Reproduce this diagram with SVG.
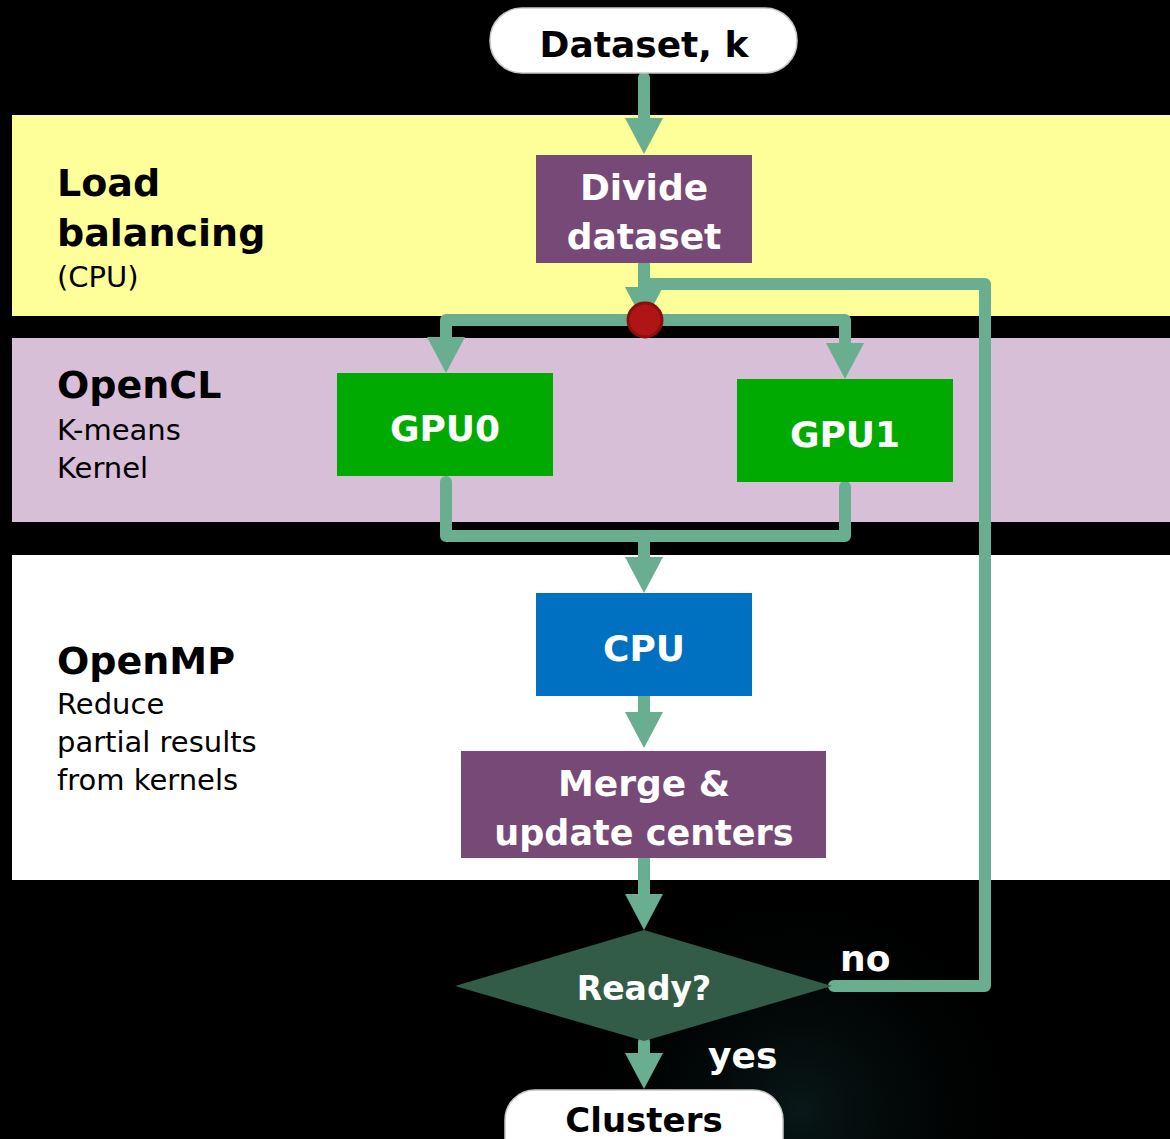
<svg xmlns="http://www.w3.org/2000/svg" width="1170" height="1139" viewBox="0 0 1170 1139">
  <defs>
    <radialGradient id="glow" cx="800" cy="1110" r="240" gradientUnits="userSpaceOnUse">
      <stop offset="0" stop-color="#0c2222" stop-opacity="0.7"/>
      <stop offset="1" stop-color="#000000" stop-opacity="0"/>
    </radialGradient>
    <!-- arrowhead: base sits on the line end, tip points forward -->
    <marker id="arrow" viewBox="0 0 36 38" refX="0" refY="19" markerWidth="36" markerHeight="38" markerUnits="userSpaceOnUse" orient="auto">
      <path d="M0,0 L36,19 L0,38 Z" fill="#6aae91"/>
    </marker>
    <style>
      .band-label { font-family: "DejaVu Sans", "Liberation Sans", sans-serif; fill: #000; }
      .title { font-weight: bold; font-size: 38px; }
      .sub { font-size: 29px; }
      .node-text { font-family: "DejaVu Sans", "Liberation Sans", sans-serif; font-weight: bold; font-size: 36px; fill: #fff; text-anchor: middle; }
      .pill-text { font-family: "DejaVu Sans", "Liberation Sans", sans-serif; font-weight: bold; font-size: 36px; fill: #000; text-anchor: middle; }
      .pill { fill: #fff; stroke: #c8c8c8; stroke-width: 1.5; }
      .proc { fill: #774977; }
      .gpu { fill: #00aa00; }
      .wire { fill: none; stroke: #6aae91; stroke-width: 12; stroke-linecap: round; stroke-linejoin: round; }
      .edge-label { font-family: "DejaVu Sans", "Liberation Sans", sans-serif; font-weight: bold; font-size: 36px; fill: #fff; }
    </style>
  </defs>

  <!-- background -->
  <rect x="0" y="0" width="1170" height="1139" fill="#000"/>
  <rect x="0" y="0" width="1170" height="1139" fill="url(#glow)"/>

  <!-- swim-lane bands -->
  <g id="lanes">
    <rect x="12" y="115" width="1158" height="201" fill="#ffff99"/>
    <rect x="12" y="338" width="1158" height="184" fill="#d8bfd8"/>
    <rect x="12" y="555" width="1158" height="325" fill="#ffffff"/>
  </g>

  <!-- lane labels -->
  <g id="lane-labels" class="band-label">
    <text x="57" y="196" class="title">Load</text>
    <text x="57" y="246" class="title">balancing</text>
    <text x="57" y="287" class="sub">(CPU)</text>
    <text x="57" y="398" class="title">OpenCL</text>
    <text x="57" y="440" class="sub">K-means</text>
    <text x="57" y="478" class="sub">Kernel</text>
    <text x="57" y="674" class="title">OpenMP</text>
    <text x="57" y="714" class="sub">Reduce</text>
    <text x="57" y="752" class="sub">partial results</text>
    <text x="57" y="790" class="sub">from kernels</text>
  </g>

  <!-- connectors -->
  <g id="connectors">
    <!-- loop back (no) -->
    <path class="wire" d="M834,986 H985 V284 H650"/>
    <!-- input to divide -->
    <path class="wire" d="M644,78 V118" marker-end="url(#arrow)"/>
    <!-- divide to split point -->
    <path class="wire" d="M644,264 V287" marker-end="url(#arrow)"/>
    <!-- split to GPUs -->
    <path class="wire" d="M644,320 H446 V337" marker-end="url(#arrow)"/>
    <path class="wire" d="M644,320 H845 V343" marker-end="url(#arrow)"/>
    <!-- GPUs to CPU -->
    <path class="wire" d="M446,482 V536 H845 V487"/>
    <path class="wire" d="M644,536 V557" marker-end="url(#arrow)"/>
    <!-- CPU to merge -->
    <path class="wire" d="M644,697 V712" marker-end="url(#arrow)"/>
    <!-- merge to decision -->
    <path class="wire" d="M644,859 V894" marker-end="url(#arrow)"/>
    <!-- decision to output -->
    <path class="wire" d="M644,1042 V1053" marker-end="url(#arrow)"/>
  </g>

  <!-- split point -->
  <g id="split">
    <circle cx="645" cy="320" r="17" fill="#b01515" stroke="#8a0e0e" stroke-width="3"/>
  </g>

  <g id="input">
    <rect class="pill" x="490" y="8" width="307" height="65" rx="32"/>
    <text class="pill-text" x="644" y="57">Dataset, k</text>
  </g>

  <g id="divide">
    <rect class="proc" x="536" y="155" width="216" height="108"/>
    <text class="node-text" x="644" y="200">Divide</text>
    <text class="node-text" x="644" y="249">dataset</text>
  </g>

  <g id="gpu0">
    <rect class="gpu" x="337" y="373" width="216" height="103"/>
    <text class="node-text" x="445" y="441">GPU0</text>
  </g>

  <g id="gpu1">
    <rect class="gpu" x="737" y="379" width="216" height="103"/>
    <text class="node-text" x="845" y="447">GPU1</text>
  </g>

  <g id="cpu">
    <rect x="536" y="593" width="216" height="103" fill="#0070c0"/>
    <text class="node-text" x="644" y="661">CPU</text>
  </g>

  <g id="merge">
    <rect class="proc" x="461" y="751" width="365" height="107"/>
    <text class="node-text" x="644" y="796">Merge &amp;</text>
    <text class="node-text" x="644" y="845" style="font-size:35px">update centers</text>
  </g>

  <g id="ready">
    <polygon points="455,986 644,930 832,986 644,1041" fill="#335c48"/>
    <text class="node-text" x="644" y="1000" style="font-size:33px">Ready?</text>
  </g>

  <g id="output">
    <rect class="pill" x="505" y="1090" width="278" height="80" rx="30"/>
    <text class="pill-text" x="644" y="1132" style="font-size:34px">Clusters</text>
  </g>

  <!-- branch labels -->
  <g id="branch-labels">
    <text class="edge-label" x="840" y="971">no</text>
    <text class="edge-label" x="708" y="1068">yes</text>
  </g>
</svg>
